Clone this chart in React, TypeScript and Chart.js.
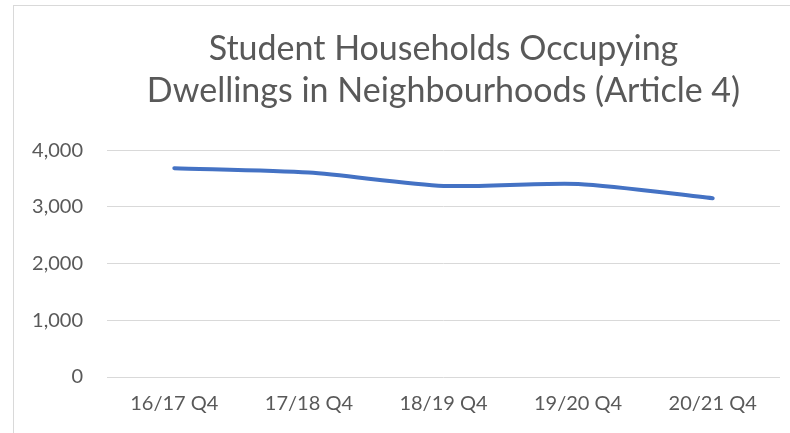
import React, { useEffect, useRef } from "react";
import { Chart, registerables } from "chart.js";

Chart.register(...registerables);

const categories = ["16/17 Q4", "17/18 Q4", "18/19 Q4", "19/20 Q4", "20/21 Q4"];
const studentHouseholds = [3685, 3607, 3372, 3407, 3154];
const titleLines = ["Student Households Occupying", "Dwellings in Neighbourhoods (Article 4)"];
const yMin = 0;
const yMax = 4000;
const yStep = 1000;

const FONT = "Lato, 'Open Sans', sans-serif";
const TEXT = "#595959";
const GRID = "#d9d9d9";

const borderPlugin = {
  id: "outerBorder",
  beforeDraw(chart: any) {
    const ctx = chart.ctx;
    ctx.save();
    ctx.strokeStyle = "#d9d9d9";
    ctx.lineWidth = 1;
    ctx.strokeRect(13.5, 5.5, 900, 600);
    ctx.restore();
  },
};

export default function App() {
  const ref = useRef<HTMLCanvasElement | null>(null);

  useEffect(() => {
    if (!ref.current) return;
    const chart = new Chart(ref.current, {
      type: "line",
      data: {
        labels: categories,
        datasets: [
          {
            label: "Student Households",
            data: studentHouseholds,
            borderColor: "#4472C4",
            backgroundColor: "#4472C4",
            borderWidth: 4,
            borderCapStyle: "round",
            borderJoinStyle: "round",
            pointRadius: 0,
            pointHoverRadius: 0,
            tension: 0.25,
            fill: false,
          },
        ],
      },
      options: {
        responsive: false,
        animation: false,
        layout: { padding: { left: 0, right: 10, top: 0, bottom: 0 } },
        plugins: {
          legend: { display: false },
          tooltip: { enabled: false },
          title: {
            display: true,
            fullSize: false,
            text: titleLines,
            color: TEXT,
            font: { family: FONT, size: 34, weight: "normal", lineHeight: 1.24 },
            padding: { top: 28, bottom: 38 },
          },
        },
        scales: {
          x: {
            offset: true,
            grid: { display: false, drawTicks: false },
            border: { display: false },
            ticks: {
              color: TEXT,
              font: { family: FONT, size: 20 },
              padding: 15,
              maxRotation: 0,
            },
            afterFit: (s: any) => {
              s.height = 56;
            },
          },
          y: {
            min: yMin,
            max: yMax,
            grid: { color: GRID, lineWidth: 1, drawTicks: false },
            border: { display: false },
            ticks: {
              stepSize: yStep,
              color: TEXT,
              font: { family: FONT, size: 20 },
              padding: 24,
            },
            afterFit: (s: any) => {
              s.width = 107;
            },
          },
        },
      },
      plugins: [borderPlugin],
    });
    return () => chart.destroy();
  }, []);

  return (
    <div style={{ position: "absolute", left: 0, top: 0, width: 790, height: 433, background: "#fff" }}>
      <canvas ref={ref} width={790} height={433} />
    </div>
  );
}
